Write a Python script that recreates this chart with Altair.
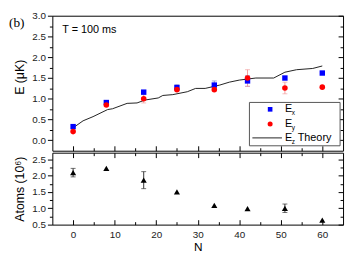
import altair as alt
import pandas as pd

# ---------------- data ----------------
N = [0, 8, 17, 25, 34, 42, 51, 60]
E_x = [0.33, 0.91, 1.16, 1.27, 1.33, 1.43, 1.50, 1.62]
E_x_err = [0.0, 0.0, 0.0, 0.07, 0.10, 0.13, 0.0, 0.0]
E_y = [0.21, 0.85, 1.00, 1.22, 1.22, 1.50, 1.26, 1.28]
E_y_err = [0.0, 0.0, 0.10, 0.0, 0.0, 0.20, 0.14, 0.0]

theory_N = [0, 2.4, 4.8, 8.3, 9.5, 13, 15.4, 17.3, 20.5, 21.6, 24, 27.5, 29.5,
            31.8, 35.3, 37.6, 40, 44, 48.3, 51, 53.8, 57.7, 60]
theory_E = [0.30, 0.47, 0.57, 0.74, 0.76, 0.89, 0.90, 0.97, 1.02, 1.08, 1.10, 1.17, 1.25,
            1.25, 1.33, 1.40, 1.45, 1.50, 1.50, 1.64, 1.70, 1.73, 1.79]

atoms = [2.09, 2.22, 1.86, 1.50, 1.09, 0.99, 1.00, 0.64]
atoms_err = [0.13, 0.0, 0.26, 0.0, 0.0, 0.0, 0.13, 0.0]

x_major = [0, 10, 20, 30, 40, 50, 60]
x_minor = [5, 15, 25, 35, 45, 55]
yt_major = [0.0, 0.5, 1.0, 1.5, 2.0, 2.5, 3.0]
yt_minor = [0.25, 0.75, 1.25, 1.75, 2.25, 2.75]
yb_major = [0.5, 1.0, 1.5, 2.0, 2.5]
yb_minor = [0.75, 1.25, 1.75, 2.25]

W, H1, H2 = 295, 137, 73
FONT = "Liberation Sans"

top_df = pd.DataFrame({"N": N, "Ex": E_x, "Exe": E_x_err, "Ey": E_y, "Eye": E_y_err})
top_df["Ex_lo"] = top_df.Ex - top_df.Exe
top_df["Ex_hi"] = top_df.Ex + top_df.Exe
top_df["Ey_lo"] = top_df.Ey - top_df.Eye
top_df["Ey_hi"] = top_df.Ey + top_df.Eye
ex_err_df = top_df[top_df.Exe > 0]
ey_err_df = top_df[top_df.Eye > 0]
th_df = pd.DataFrame({"N": theory_N, "E": theory_E})

bot_df = pd.DataFrame({"N": N, "A": atoms, "Ae": atoms_err})
bot_df["lo"] = bot_df.A - bot_df.Ae
bot_df["hi"] = bot_df.A + bot_df.Ae
a_err_df = bot_df[bot_df.Ae > 0]

xs = alt.Scale(domain=[-5, 65], nice=False, zero=False)
yst = alt.Scale(domain=[-0.25, 3.0], nice=False, zero=False)
ysb = alt.Scale(domain=[0.5, 2.7], nice=False, zero=False)


def tick_axis(orient, values, size, offset=0):
    return alt.Axis(orient=orient, values=values, tickSize=size, labels=False,
                    domain=False, title=None, offset=offset, grid=False,
                    tickColor="black", tickWidth=1)


one = pd.DataFrame({"a": [0]})

# ---------------- top panel ----------------
ex_rule = alt.Chart(ex_err_df).mark_rule(color="#8c8cd0", strokeWidth=1).encode(
    x=alt.X("N:Q", scale=xs, axis=tick_axis("top", x_major, 5, -H1)),
    y=alt.Y("Ex_lo:Q", scale=yst, axis=alt.Axis(
        orient="left", values=yt_major, format=".1f", tickSize=5, labelPadding=2,
        domain=False, grid=False, title="E (μK)", titleFontSize=12.5,
        titleFontWeight="normal", titleFont=FONT, titlePadding=5, titleY=62,
        tickColor="black")),
    y2="Ex_hi:Q",
)
ex_cap_lo = alt.Chart(ex_err_df).mark_tick(orient="horizontal", size=5, thickness=1, color="#8c8cd0").encode(
    x=alt.X("N:Q", scale=xs, axis=None),
    y=alt.Y("Ex_lo:Q", scale=yst, axis=tick_axis("left", yt_minor, 3, -W)),
)
ex_cap_hi = alt.Chart(ex_err_df).mark_tick(orient="horizontal", size=5, thickness=1, color="#8c8cd0").encode(
    x=alt.X("N:Q", scale=xs, axis=None),
    y=alt.Y("Ex_hi:Q", scale=yst, axis=None),
)
ey_rule = alt.Chart(ey_err_df).mark_rule(color="#f2a0a0", strokeWidth=1).encode(
    x=alt.X("N:Q", scale=xs, axis=tick_axis("top", x_minor, 3, -H1)),
    y=alt.Y("Ey_lo:Q", scale=yst, axis=tick_axis("left", yt_minor, 3)),
    y2="Ey_hi:Q",
)
ey_cap_lo = alt.Chart(ey_err_df).mark_tick(orient="horizontal", size=5, thickness=1, color="#f2a0a0").encode(
    x=alt.X("N:Q", scale=xs, axis=None),
    y=alt.Y("Ey_lo:Q", scale=yst, axis=None),
)
ey_cap_hi = alt.Chart(ey_err_df).mark_tick(orient="horizontal", size=5, thickness=1, color="#f2a0a0").encode(
    x=alt.X("N:Q", scale=xs, axis=None),
    y=alt.Y("Ey_hi:Q", scale=yst, axis=None),
)
theory = alt.Chart(th_df).mark_line(color="#222222", strokeWidth=1).encode(
    x=alt.X("N:Q", scale=xs, axis=None),
    y=alt.Y("E:Q", scale=yst, axis=tick_axis("left", yt_major, 5, -W)),
    order="N:Q",
)
blue = alt.Chart(top_df).mark_point(shape="square", filled=True, color="#0000ff", size=30, opacity=1).encode(
    x=alt.X("N:Q", scale=xs, axis=None),
    y=alt.Y("Ex:Q", scale=yst, axis=None),
)
red = alt.Chart(top_df).mark_point(shape="circle", filled=True, color="#ff0000", size=32, opacity=1).encode(
    x=alt.X("N:Q", scale=xs, axis=None),
    y=alt.Y("Ey:Q", scale=yst, axis=None),
)


def txt(s, x, y, size, font=FONT, align="left"):
    return alt.Chart(one).mark_text(text=s, font=font, fontSize=size, align=align,
                                    baseline="middle", color="black").encode(
        x=alt.value(x), y=alt.value(y))


t_label = txt("T = 100 ms", 10, 15, 11)
b_label = txt("(b)", -44, 7, 13.5, font="Liberation Serif")

leg_box = alt.Chart(one).mark_rect(fill="white", stroke="#555555", strokeWidth=1).encode(
    x=alt.value(200), x2=alt.value(292), y=alt.value(88), y2=alt.value(132))
leg_sq = alt.Chart(one).mark_point(shape="square", filled=True, color="#0000ff", size=22, opacity=1).encode(
    x=alt.value(221), y=alt.value(95))
leg_ci = alt.Chart(one).mark_point(shape="circle", filled=True, color="#ff0000", size=26, opacity=1).encode(
    x=alt.value(221), y=alt.value(110))
leg_ln = alt.Chart(one).mark_rule(color="#222222", strokeWidth=1).encode(
    x=alt.value(203), x2=alt.value(233), y=alt.value(124))
leg_texts = [
    txt("E", 236, 95, 11), txt("x", 243, 99, 6.5),
    txt("E", 236, 110, 11), txt("y", 243, 114, 6.5),
    txt("E", 236, 124, 11), txt("z", 243, 128, 6.5),
    txt("Theory", 249, 124, 11),
]

top = alt.layer(
    ex_rule, ex_cap_lo, ex_cap_hi, ey_rule, ey_cap_lo, ey_cap_hi, theory, blue, red,
    t_label, b_label, leg_box, leg_sq, leg_ci, leg_ln, *leg_texts
).resolve_axis(x="independent", y="independent").properties(width=W, height=H1)

# ---------------- bottom panel ----------------
tri = alt.Chart(bot_df).mark_point(shape="triangle-up", filled=True, color="black", size=38, opacity=1).encode(
    x=alt.X("N:Q", scale=xs, axis=alt.Axis(
        orient="bottom", values=x_major, ticks=False, labelPadding=5, domain=False, grid=False,
        title="N", titleFontSize=12, titleFontWeight="normal", titleFont=FONT, titlePadding=2)),
    y=alt.Y("A:Q", scale=ysb, axis=alt.Axis(
        orient="left", values=yb_major, format=".1f", tickSize=5, labelPadding=2,
        domain=False, grid=False, title="Atoms (10⁶)", titleFontSize=12.5,
        titleFontWeight="normal", titleFont=FONT, titlePadding=5, tickColor="black")),
)
a_rule = alt.Chart(a_err_df).mark_rule(color="#333333", strokeWidth=1).encode(
    x=alt.X("N:Q", scale=xs, axis=tick_axis("top", x_major, 5, -H2)),
    y=alt.Y("lo:Q", scale=ysb, axis=tick_axis("left", yb_minor, 3)),
    y2="hi:Q",
)
a_cap_lo = alt.Chart(a_err_df).mark_tick(orient="horizontal", size=5, thickness=1, color="#333333").encode(
    x=alt.X("N:Q", scale=xs, axis=tick_axis("top", x_minor, 3, -H2)),
    y=alt.Y("lo:Q", scale=ysb, axis=tick_axis("left", yb_major, 5, -W)),
)
a_cap_hi = alt.Chart(a_err_df).mark_tick(orient="horizontal", size=5, thickness=1, color="#333333").encode(
    x=alt.X("N:Q", scale=xs, axis=tick_axis("bottom", x_major, 5, -H2)),
    y=alt.Y("hi:Q", scale=ysb, axis=tick_axis("left", yb_minor, 3, -W)),
)
ghost = alt.Chart(bot_df).mark_point(opacity=0).encode(
    x=alt.X("N:Q", scale=xs, axis=tick_axis("bottom", x_minor, 3, -H2)),
    y=alt.Y("A:Q", scale=ysb, axis=None),
)

bottom = alt.layer(a_rule, a_cap_lo, a_cap_hi, ghost, tri).resolve_axis(
    x="independent", y="independent").properties(width=W, height=H2)

chart = alt.vconcat(top, bottom, spacing=0).properties(
    padding={"left": 0, "top": 0, "right": 2, "bottom": 0}
).configure_view(stroke="black", strokeWidth=1).configure_axis(
    labelFont=FONT, labelFontSize=10, labelColor="#222222", titleColor="black"
)

chart.save("out.html", embed_options={"renderer": "svg", "actions": False})
